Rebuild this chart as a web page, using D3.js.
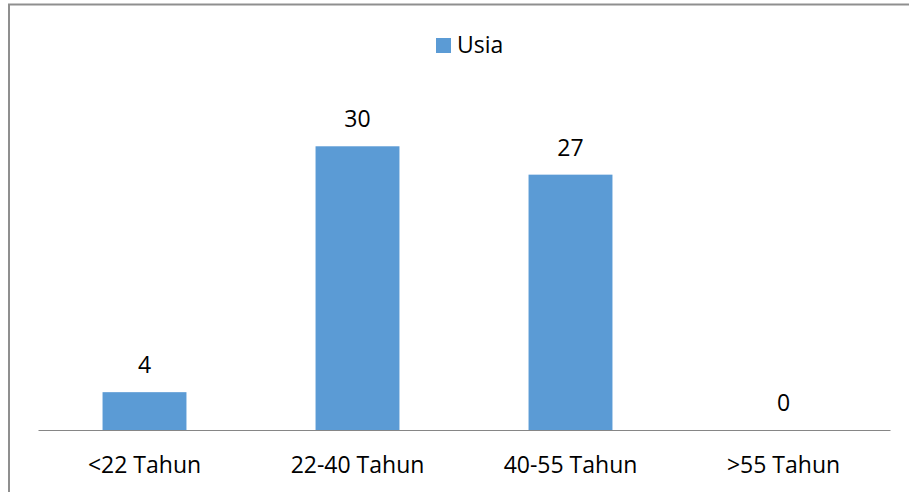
<!DOCTYPE html>
<html>
<head>
<meta charset="utf-8">
<script src="https://cdn.jsdelivr.net/npm/d3@7"></script>
<style>
  body { margin: 0; background: #fff; }
  text { font-family: "Open Sans", "Liberation Sans", sans-serif; fill: #000; }
</style>
</head>
<body>
<div id="chart"></div>
<script>
const categories = ["<22 Tahun", "22-40 Tahun", "40-55 Tahun", ">55 Tahun"];
const values = [4, 30, 27, 0];
const seriesName = "Usia";

const W = 909, H = 492;
const plot = { left: 38, right: 890, top: 99, bottom: 430 };
const barColor = "#5b9bd5";
const fontSize = "23px";

const svg = d3.select("#chart").append("svg")
  .attr("width", W)
  .attr("height", H);

// chart frame (extends past the window on the right / bottom)
svg.append("rect")
  .attr("x", 9).attr("y", 4.5)
  .attr("width", 1000).attr("height", 600)
  .attr("fill", "none")
  .attr("stroke", "#8f8f8f")
  .attr("stroke-width", 2);

const x = d3.scaleBand()
  .domain(categories)
  .range([plot.left, plot.right])
  .paddingInner(0.606)
  .paddingOuter(0.303);

const y = d3.scaleLinear()
  .domain([0, 35])
  .range([plot.bottom, plot.top]);

const data = categories.map((c, i) => ({ cat: c, val: values[i] }));

// === Bars ===
svg.append("g")
  .selectAll("rect")
  .data(data)
  .join("rect")
  .attr("x", d => x(d.cat))
  .attr("y", d => y(d.val))
  .attr("width", x.bandwidth())
  .attr("height", d => y(0) - y(d.val))
  .attr("fill", barColor);

// === Baseline axis ===
const xAxis = svg.append("g")
  .attr("transform", `translate(0,${plot.bottom})`)
  .call(d3.axisBottom(x).tickSize(0).tickPadding(27));
xAxis.select(".domain").attr("stroke", "#868686").attr("stroke-width", 1);
xAxis.selectAll("text")
  .style("font-size", fontSize)
  .style("font-family", "'Open Sans', 'Liberation Sans', sans-serif")
  .attr("fill", "#000");

// === Value labels ===
svg.append("g")
  .selectAll("text")
  .data(data)
  .join("text")
  .attr("x", d => x(d.cat) + x.bandwidth() / 2)
  .attr("y", d => y(d.val) - 19)
  .attr("text-anchor", "middle")
  .style("font-size", fontSize)
  .text(d => d.val);

// === Legend ===
const legend = svg.append("g").attr("transform", "translate(436,38)");
legend.append("rect")
  .attr("width", 15).attr("height", 15)
  .attr("fill", barColor);
legend.append("text")
  .attr("x", 21).attr("y", 15)
  .style("font-size", fontSize)
  .text(seriesName);
</script>
</body>
</html>
